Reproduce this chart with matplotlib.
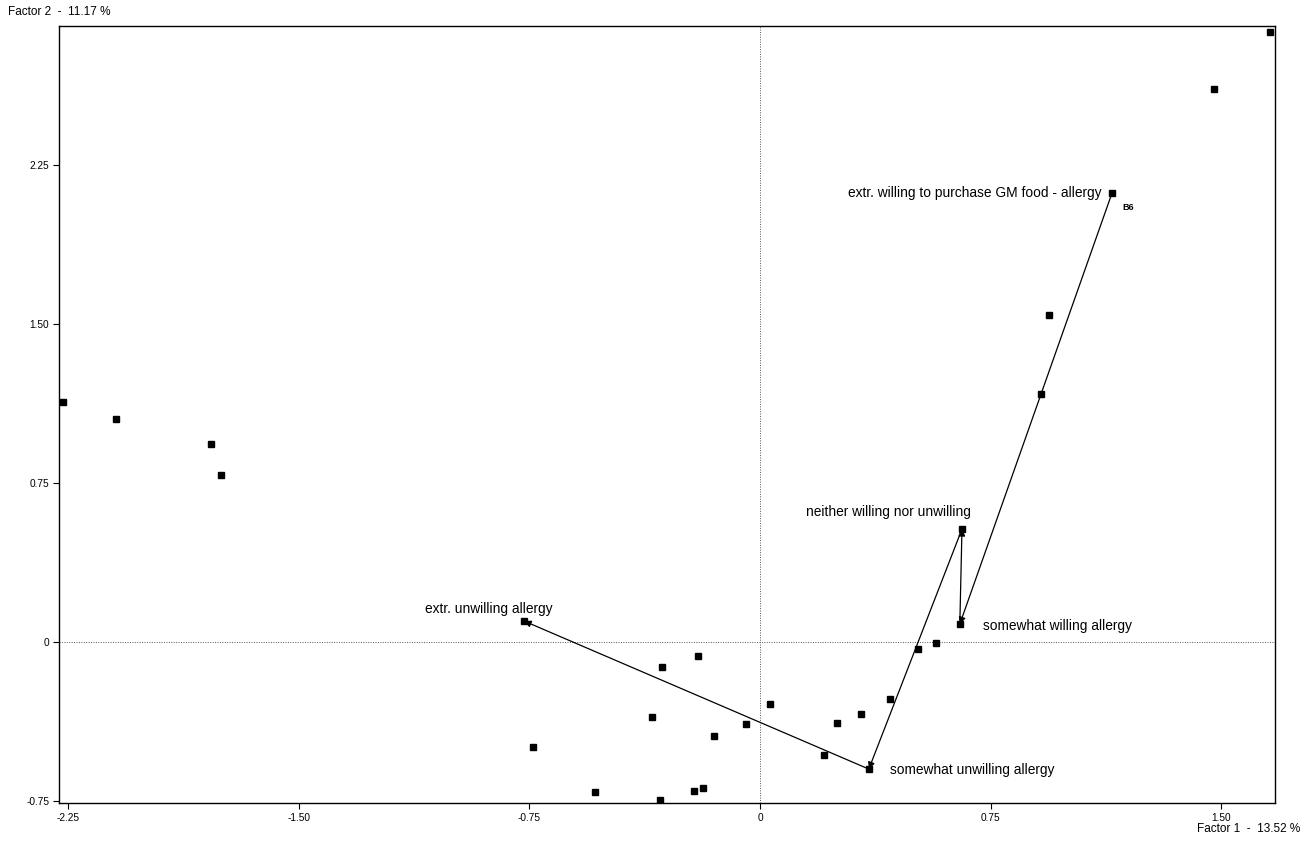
import numpy as np
import matplotlib.pyplot as plt

plt.rcParams['font.family'] = ['Liberation Sans', 'DejaVu Sans']

# factor coordinates of all points
x_vals = [-2.267, -2.094, -1.785, -1.753, -0.767, -0.738, -0.537, -0.351, -0.319, -0.325,
          -0.215, -0.202, -0.185, -0.150, -0.046, 0.033, 0.208, 0.250, 0.328, 0.354,
          0.423, 0.514, 0.572, 0.650, 0.657, 0.914, 0.940, 1.145, 1.476, 1.659]
y_vals = [1.132, 1.052, 0.934, 0.788, 0.099, -0.495, -0.708, -0.354, -0.118, -0.745,
          -0.703, -0.066, -0.689, -0.443, -0.387, -0.292, -0.533, -0.382, -0.340, -0.599,
          -0.269, -0.033, -0.005, 0.085, 0.533, 1.170, 1.542, 2.118, 2.608, 2.877]

# trajectory of the allergy categories (in order)
path_labels = ['extr. willing to purchase GM food - allergy', 'somewhat willing allergy',
               'neither willing nor unwilling', 'somewhat unwilling allergy',
               'extr. unwilling allergy']
path_x = [1.145, 0.650, 0.657, 0.354, -0.767]
path_y = [2.118, 0.085, 0.533, -0.599, 0.099]

ticks_x = [-2.25, -1.50, -0.75, 0, 0.75, 1.50]
ticks_y = [-0.75, 0, 0.75, 1.50, 2.25]

fig = plt.figure(figsize=(13.07, 8.41), dpi=100)
ax = fig.add_axes([0.0451, 0.0452, 0.9304, 0.9239])

ax.axhline(0, color='#555555', lw=0.7, ls=(0, (1, 1.5)), zorder=1)
ax.axvline(0, color='#555555', lw=0.7, ls=(0, (1, 1.5)), zorder=1)

ax.plot(x_vals, y_vals, 's', color='black', ms=4.2, zorder=3)

for i in range(len(path_x) - 1):
    ax.annotate('', xy=(path_x[i + 1], path_y[i + 1]), xytext=(path_x[i], path_y[i]),
                arrowprops=dict(arrowstyle='-|>', color='black', lw=0.9,
                                mutation_scale=10, shrinkA=0, shrinkB=0), zorder=2)

fs = 9.9
ax.text(path_x[0] - 0.035, path_y[0], path_labels[0], fontsize=fs, ha='right', va='center')
ax.text(path_x[0] + 0.035, path_y[0] - 0.07, 'B6', fontsize=6.5, fontweight='bold', ha='left', va='center')
ax.text(path_x[1] + 0.075, path_y[1] - 0.01, path_labels[1], fontsize=fs, ha='left', va='center')
ax.text(path_x[2] - 0.24, path_y[2] + 0.08, path_labels[2], fontsize=fs, ha='center', va='center')
ax.text(path_x[3] + 0.07, path_y[3] - 0.005, path_labels[3], fontsize=fs, ha='left', va='center')
ax.text(path_x[4] - 0.115, path_y[4] + 0.055, path_labels[4], fontsize=fs, ha='center', va='center')

ax.set_xlim(-2.28, 1.675)
ax.set_ylim(-0.759, 2.906)
ax.set_xticks(ticks_x)
ax.set_xticklabels(['-2.25', '-1.50', '-0.75', '0', '0.75', '1.50'])
ax.set_yticks(ticks_y)
ax.set_yticklabels(['-0.75', '0', '0.75', '1.50', '2.25'])
ax.tick_params(labelsize=7.3, length=4, width=0.8, color='black', pad=3)
for s in ax.spines.values():
    s.set_linewidth(1.0)
    s.set_color('black')

fig.text(8 / 1307, 1 - 12 / 841, 'Factor 2  -  11.17 %', fontsize=8.5, ha='left', va='center')
fig.text(1300 / 1307, 1 - 829 / 841, 'Factor 1  -  13.52 %', fontsize=8.5, ha='right', va='center')

fig.savefig('out.png', dpi=100)
